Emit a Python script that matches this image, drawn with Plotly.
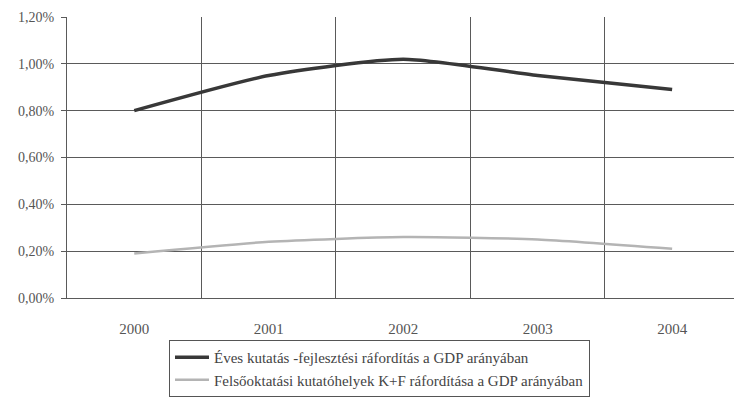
import plotly.graph_objects as go

years = ["2000", "2001", "2002", "2003", "2004"]
rd_total = [0.0080, 0.0095, 0.0102, 0.0095, 0.0089]
rd_higher_ed = [0.0019, 0.0024, 0.0026, 0.0025, 0.0021]
series_names = [
    "Éves kutatás -fejlesztési ráfordítás a GDP arányában",
    "Felsőoktatási kutatóhelyek K+F ráfordítása a GDP arányában",
]
y_ticks = [0, 0.002, 0.004, 0.006, 0.008, 0.010, 0.012]

serif = "Liberation Serif"
grid = "#5a5a5a"

fig = go.Figure()
fig.add_trace(go.Scatter(
    x=years, y=rd_total, name=series_names[0], mode="lines",
    line=dict(color="#383838", width=3.5, shape="spline", smoothing=0.6),
))
fig.add_trace(go.Scatter(
    x=years, y=rd_higher_ed, name=series_names[1], mode="lines",
    line=dict(color="#b4b4b4", width=2.5, shape="spline", smoothing=0.6),
))

fig.update_layout(
    width=734, height=401,
    margin=dict(l=67, r=0, t=17, b=103),
    paper_bgcolor="white", plot_bgcolor="white",
    separators=", ",
    font=dict(family=serif, size=14, color="#555"),
    showlegend=True,
    legend=dict(
        x=(169 - 67) / 667, xanchor="left",
        y=-(340 - 298) / 281, yanchor="top",
        bordercolor="#555", borderwidth=1,
        font=dict(family=serif, size=15, color="#444"),
        tracegroupgap=0, itemwidth=34,
        bgcolor="white",
    ),
    xaxis=dict(
        type="category", range=[-0.5, 4.46],
        tickson="boundaries", ticks="", showgrid=True,
        gridcolor=grid, gridwidth=1,
        showline=True, linecolor=grid, linewidth=1,
        ticklabelstandoff=17,
        tickfont=dict(family=serif, size=15, color="#555"),
        zeroline=False,
    ),
    yaxis=dict(
        range=[0, 0.012], tickvals=y_ticks, tickformat=".2%",
        showgrid=True, gridcolor=grid, gridwidth=1,
        showline=True, linecolor=grid, linewidth=1,
        ticks="outside", ticklen=5, tickcolor=grid,
        ticklabelstandoff=4,
        tickfont=dict(family=serif, size=14, color="#555"),
        zeroline=False,
    ),
)

fig.write_html("out.html")
